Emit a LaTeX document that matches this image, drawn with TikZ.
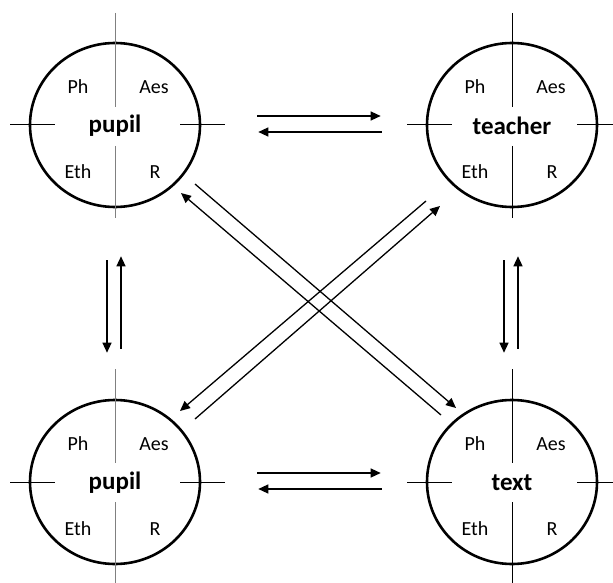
\documentclass[tikz,border=0pt]{standalone}
\usepackage{fontspec}
\setmainfont{Carlito}
\usetikzlibrary{arrows.meta,shapes.geometric}
\tikzset{
  agent/.style={draw, ellipse, line width=2.6pt, minimum width=170pt, minimum height=164pt, inner sep=0pt},
  crossv/.style={line width=1pt},
  lab/.style={font=\fontsize{20}{22}\selectfont, inner sep=0pt},
  title/.style={font=\fontsize{25}{27}\selectfont\bfseries, inner sep=0pt},
  arr/.style={line width=1.3pt, -{Triangle[length=10pt,width=9pt]}},
}
\newcommand{\agentset}[4]{% name, x, y, title
  \node[agent] (#1) at (#2,#3) {};
  \node[title] (#1-t) at (#2,#3+1) {#4};
  \node[lab] (#1-ph) at (#2-37,#3-38) {Ph};
  \node[lab] (#1-aes) at (#2+39,#3-38) {Aes};
  \node[lab] (#1-eth) at (#2-37,#3+47) {Eth};
  \node[lab] (#1-r) at (#2+40,#3+47) {R};
  \draw[crossv] (#2-105,#3) -- (#2-60,#3);
  \draw[crossv] (#2+65,#3) -- (#2+110,#3);
}
\begin{document}
\begin{tikzpicture}[x=1pt,y=-1pt]
\useasboundingbox (0,0) rectangle (613,583);
\agentset{tl}{115}{125}{pupil}
\agentset{tr}{512}{125}{teacher}
\agentset{bl}{115}{482}{pupil}
\agentset{br}{512}{482}{text}
% vertical cross lines
\draw[crossv, gray] (115,13) -- (115,107);
\draw[crossv, gray] (115,146) -- (115,218);
\draw[crossv] (512,13) -- (512,107);
\draw[crossv] (512,146) -- (512,218);
\draw[crossv, gray] (115,369) -- (115,463);
\draw[crossv, gray] (115,502) -- (115,583);
\draw[crossv] (512,369) -- (512,463);
\draw[crossv] (512,502) -- (512,583);
% horizontal arrows
\draw[arr, shorten <=56pt, shorten >=45pt] ([yshift=9pt]tl.east) -- ([yshift=9pt]tr.west);
\draw[arr, shorten <=44pt, shorten >=57pt] ([yshift=-7pt]tr.west) -- ([yshift=-7pt]tl.east);
\draw[arr, shorten <=56pt, shorten >=45pt] ([yshift=9pt]bl.east) -- ([yshift=9pt]br.west);
\draw[arr, shorten <=44pt, shorten >=57pt] ([yshift=-7pt]br.west) -- ([yshift=-7pt]bl.east);
% vertical arrows
\draw[arr, shorten <=52pt, shorten >=46pt] ([xshift=-8pt]tl.south) -- ([xshift=-8pt]bl.north);
\draw[arr, shorten <=50pt, shorten >=48pt] ([xshift=6pt]bl.north) -- ([xshift=6pt]tl.south);
\draw[arr, shorten <=52pt, shorten >=46pt] ([xshift=-8pt]tr.south) -- ([xshift=-8pt]br.north);
\draw[arr, shorten <=50pt, shorten >=48pt] ([xshift=6pt]br.north) -- ([xshift=6pt]tr.south);
% diagonal arrows
\coordinate (d1a) at (195,184); \coordinate (d1b) at (456,408);
\coordinate (d2a) at (441,415); \coordinate (d2b) at (181,193);
\coordinate (d3a) at (195,419); \coordinate (d3b) at (440,206);
\coordinate (d4a) at (426,201); \coordinate (d4b) at (180,411);
\draw[arr] (d1a) -- (d1b);
\draw[arr] (d2a) -- (d2b);
\draw[arr] (d3a) -- (d3b);
\draw[arr] (d4a) -- (d4b);
\end{tikzpicture}
\end{document}
